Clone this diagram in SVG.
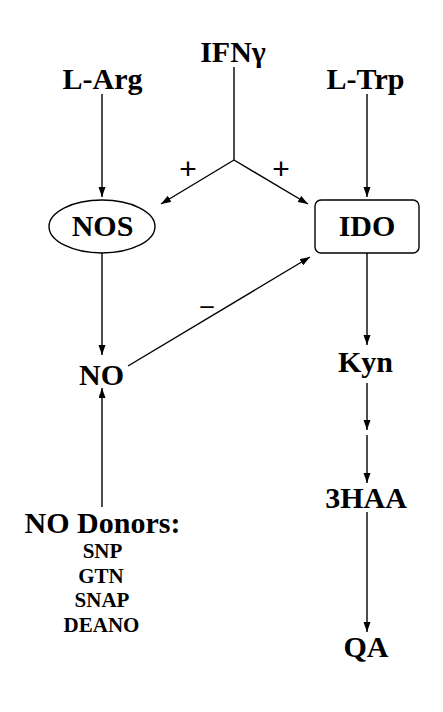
<svg xmlns="http://www.w3.org/2000/svg" width="443" height="712" viewBox="0 0 443 712">
<style>
.t{font-family:"Liberation Serif","Times New Roman",serif;font-weight:bold;font-size:30px;text-anchor:middle;fill:#000}
.s{font-family:"Liberation Serif","Times New Roman",serif;font-weight:bold;font-size:21px;text-anchor:middle;fill:#000}
.p{font-family:"Liberation Sans",Arial,sans-serif;font-size:30px;text-anchor:middle;fill:#000}
.c{stroke:#000;stroke-width:1.4;fill:none;marker-end:url(#ah)}
.l{stroke:#000;stroke-width:1.4;fill:none}
.sh{stroke:#000;stroke-width:1.4;fill:#fff}
</style>
<defs>
<marker id="ah" markerUnits="userSpaceOnUse" markerWidth="11" markerHeight="8" refX="10" refY="3.5" orient="auto">
<path d="M0,0 L10,3.5 L0,7 z" fill="#000"/>
</marker>
</defs>
<rect width="443" height="712" fill="#fff"/>
<g id="connectors">
<line class="c" x1="102" y1="94" x2="102" y2="197"/>
<line class="c" x1="367" y1="94" x2="367" y2="197"/>
<line class="l" x1="234" y1="67" x2="234" y2="160"/>
<line class="c" x1="234" y1="160" x2="161" y2="204"/>
<line class="c" x1="234" y1="160" x2="308" y2="204"/>
<line class="c" x1="102" y1="253" x2="102" y2="355"/>
<line class="c" x1="128" y1="366" x2="310" y2="257"/>
<line class="c" x1="367" y1="253" x2="367" y2="345"/>
<line class="c" x1="367" y1="383" x2="367" y2="430"/>
<line class="c" x1="367" y1="435" x2="367" y2="483"/>
<line class="c" x1="367" y1="512" x2="367" y2="632"/>
<line class="c" x1="102" y1="507" x2="102" y2="388"/>
<text class="p" x="188" y="179">+</text>
<text class="p" x="281" y="179">+</text>
<text class="t" x="207" y="313" style="font-size:26px">–</text>
</g>
<g id="IFNg"><text class="t" x="233" y="62">IFNγ</text></g>
<g id="LArg"><text class="t" x="102.5" y="89">L-Arg</text></g>
<g id="LTrp"><text class="t" x="365.5" y="89">L-Trp</text></g>
<g id="NOS"><ellipse class="sh" cx="102" cy="226.5" rx="53" ry="26.5"/><text class="t" x="102.5" y="236">NOS</text></g>
<g id="IDO"><rect class="sh" x="315" y="200" width="104" height="53" rx="6"/><text class="t" x="367" y="236">IDO</text></g>
<g id="NO"><text class="t" x="101.5" y="385">NO</text></g>
<g id="Kyn"><text class="t" x="365.5" y="372">Kyn</text></g>
<g id="HAA"><text class="t" x="366" y="508">3HAA</text></g>
<g id="QA"><text class="t" x="366" y="657">QA</text></g>
<g id="donors">
<text class="t" x="102.5" y="533">NO Donors:</text>
<text class="s" x="102.5" y="558">SNP</text>
<text class="s" x="101" y="583">GTN</text>
<text class="s" x="102" y="607">SNAP</text>
<text class="s" x="101.5" y="632">DEANO</text>
</g>
</svg>
